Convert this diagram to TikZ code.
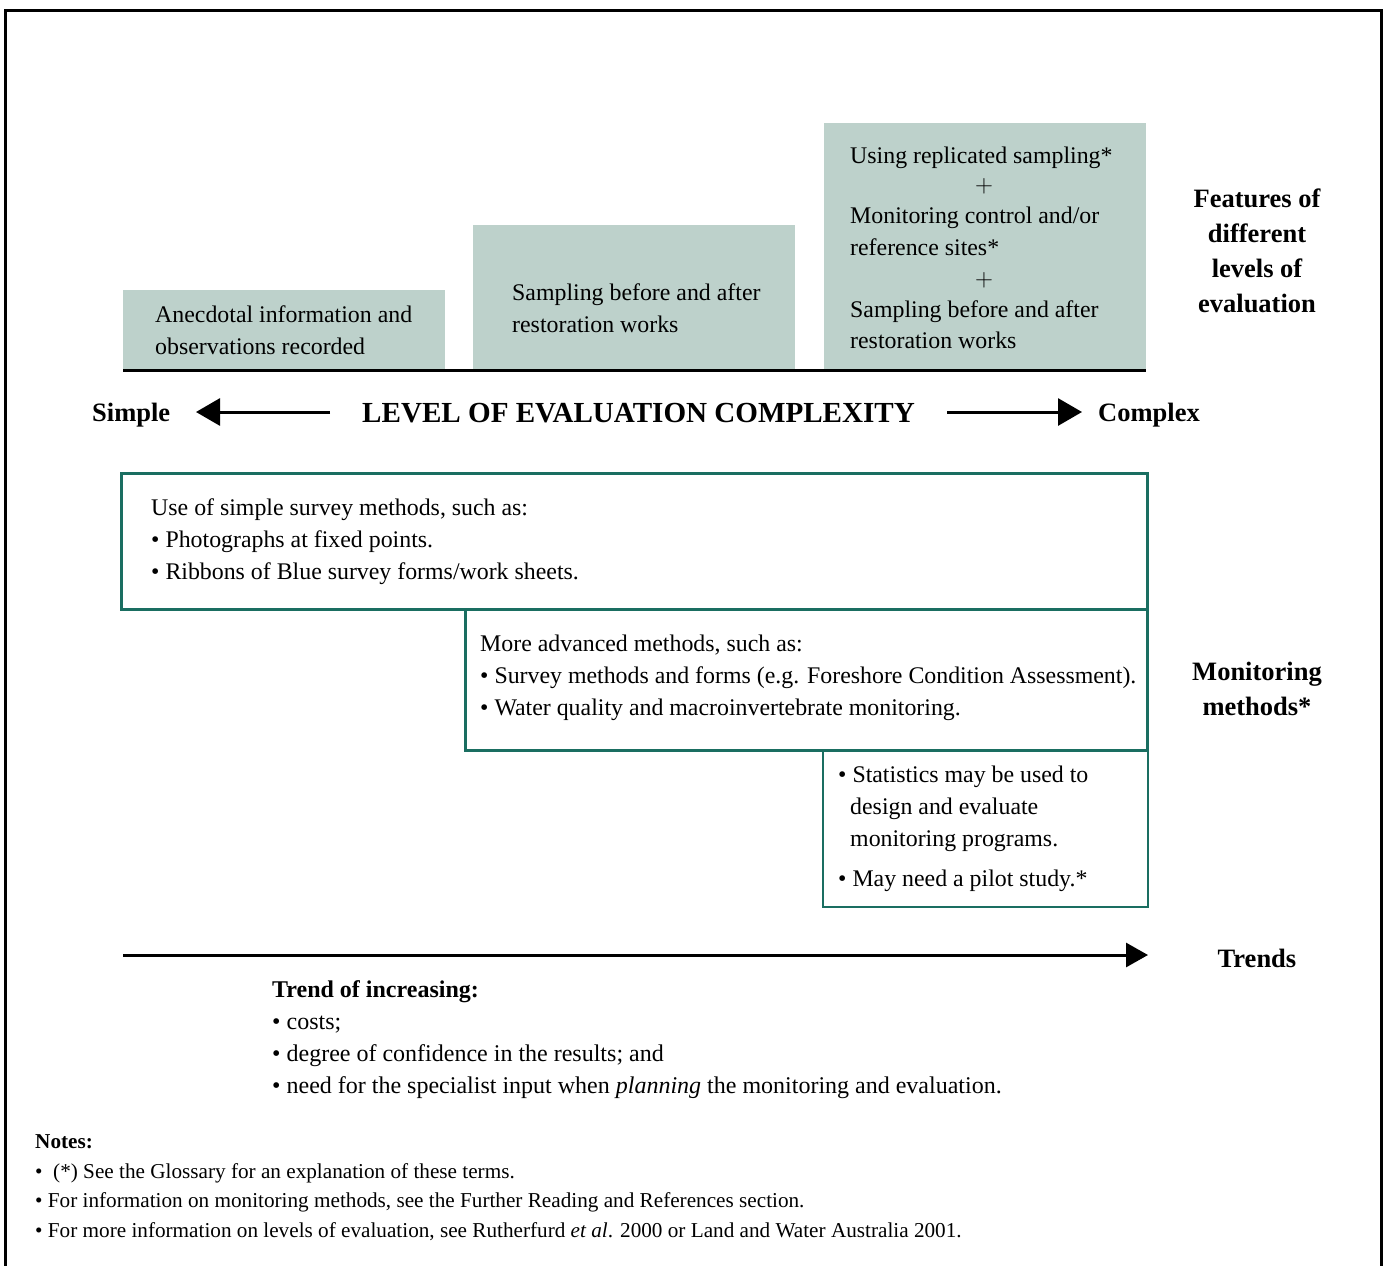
\documentclass[tikz,border=0pt]{standalone}
\usepackage{fontspec}
\setmainfont{Liberation Serif}
\usetikzlibrary{arrows.meta}
\definecolor{sage}{HTML}{BDD1CB}
\definecolor{tealb}{HTML}{1A6E61}
\begin{document}
\begin{tikzpicture}[x=1pt,y=-1pt,
  feat/.style={fill=sage, draw=none, inner sep=0, anchor=north west},
  mbox/.style={draw=tealb, line width=3pt, inner sep=0, anchor=north west},
  txt/.style={anchor=base west, inner sep=0, font=\fontsize{23.85}{28}\selectfont},
  ctxt/.style={anchor=center, inner sep=0, font=\fontsize{25}{28}\selectfont},
  lab/.style={anchor=base, inner sep=0, font=\bfseries\fontsize{26.5}{30}\selectfont},
  labw/.style={anchor=base west, inner sep=0, font=\bfseries\fontsize{26.5}{30}\selectfont},
  ttxt/.style={anchor=base west, inner sep=0, font=\fontsize{24}{28}\selectfont},
  ntxt/.style={anchor=base west, inner sep=0, font=\fontsize{21.2}{24}\selectfont},
  bigarrow/.style={line width=3pt, -{Triangle[length=24pt,width=27pt]}}
]
\useasboundingbox (0,0) rectangle (1387,1266);
% frame
\draw[line width=3pt] (5,1266) -- (5,10) -- (1381,10) -- (1381,1266);

% feature boxes
\node[feat, minimum width=322pt, minimum height=80pt] (f1) at (123,290) {};
\node[feat, minimum width=322pt, minimum height=145pt] (f2) at (473,225) {};
\node[feat, minimum width=322pt, minimum height=247pt] (f3) at (824,123) {};
\draw[line width=3pt] (f1.south west) -- (f3.south east);

\node[txt] (f1a) at (155,322) {Anecdotal information and};
\node[txt] (f1b) at (155,354) {observations recorded};
\node[txt] (f2a) at (512,300) {Sampling before and after};
\node[txt] (f2b) at (512,332) {restoration works};
\node[txt] (f3a) at (850,163) {Using replicated sampling*};
\node[ctxt] (f3p1) at (984,186) {$+$};
\node[txt] (f3b) at (850,223) {Monitoring control and/or};
\node[txt] (f3c) at (850,255) {reference sites*};
\node[ctxt] (f3p2) at (984,280) {$+$};
\node[txt] (f3d) at (850,317) {Sampling before and after};
\node[txt] (f3e) at (850,348) {restoration works};

\node[lab] (h1a) at (1257,207) {Features of};
\node[lab] (h1b) at (1257,242) {different};
\node[lab] (h1c) at (1257,277) {levels of};
\node[lab] (h1d) at (1257,312) {evaluation};

% complexity axis
\node[labw] (simple) at (92,421) {Simple};
\node[anchor=base west, inner sep=0, font=\bfseries\fontsize{29.1}{32}\selectfont] (level) at (362,422) {LEVEL OF EVALUATION COMPLEXITY};
\node[labw] (complex) at (1098,421) {Complex};
\coordinate (la) at (330,412);
\coordinate (lt) at (196,412);
\coordinate (ra) at (947,412);
\coordinate (rt) at (1082,412);
\draw[bigarrow] (la) -- (lt);
\draw[bigarrow] (ra) -- (rt);

% monitoring boxes
\node[mbox, line width=2pt, minimum width=325pt, minimum height=157pt] (mc) at (822,749) {};
\node[mbox, minimum width=682pt, minimum height=141pt] (mb) at (464,608) {};
\node[mbox, minimum width=1026pt, minimum height=136pt] (ma) at (120,472) {};

\node[txt] (ma1) at (151,515) {Use of simple survey methods, such as:};
\node[txt] (ma2) at (151,547) {\textbullet\ Photographs at fixed points.};
\node[txt] (ma3) at (151,579) {\textbullet\ Ribbons of Blue survey forms/work sheets.};
\node[txt] (mb1) at (480,651) {More advanced methods, such as:};
\node[txt] (mb2) at (480,683) {\textbullet\ Survey methods and forms (e.g. Foreshore Condition Assessment).};
\node[txt] (mb3) at (480,715) {\textbullet\ Water quality and macroinvertebrate monitoring.};
\node[txt] (mc1) at (838,782) {\textbullet\ Statistics may be used to};
\node[txt] (mc2) at (850,814) {design and evaluate};
\node[txt] (mc3) at (850,846) {monitoring programs.};
\node[txt] (mc4) at (838,886) {\textbullet\ May need a pilot study.*};

\node[lab] (h2a) at (1257,680) {Monitoring};
\node[lab] (h2b) at (1257,715) {methods*};

% trends
\coordinate (ts) at (123,955);
\coordinate (te) at (1148,955);
\draw[line width=3pt, -{Triangle[length=22pt,width=24pt]}] (ts) -- (te);
\node[lab] (h3) at (1257,967) {Trends};

\node[anchor=base west, inner sep=0, font=\bfseries\fontsize{24}{28}\selectfont] (tr0) at (272,997) {Trend of increasing:};
\node[ttxt] (tr1) at (272,1029) {\textbullet\ costs;};
\node[ttxt] (tr2) at (272,1061) {\textbullet\ degree of confidence in the results; and};
\node[ttxt] (tr3) at (272,1093) {\textbullet\ need for the specialist input when \textit{planning} the monitoring and evaluation.};

% notes
\node[anchor=base west, inner sep=0, font=\bfseries\fontsize{21.2}{24}\selectfont] (n0) at (35,1148) {Notes:};
\node[ntxt] (n1) at (35,1178) {\textbullet\ \ (*) See the Glossary for an explanation of these terms.};
\node[ntxt] (n2) at (35,1207) {\textbullet\ For information on monitoring methods, see the Further Reading and References section.};
\node[ntxt] (n3) at (35,1237) {\textbullet\ For more information on levels of evaluation, see Rutherfurd \textit{et al}. 2000 or Land and Water Australia 2001.};
\end{tikzpicture}
\end{document}
